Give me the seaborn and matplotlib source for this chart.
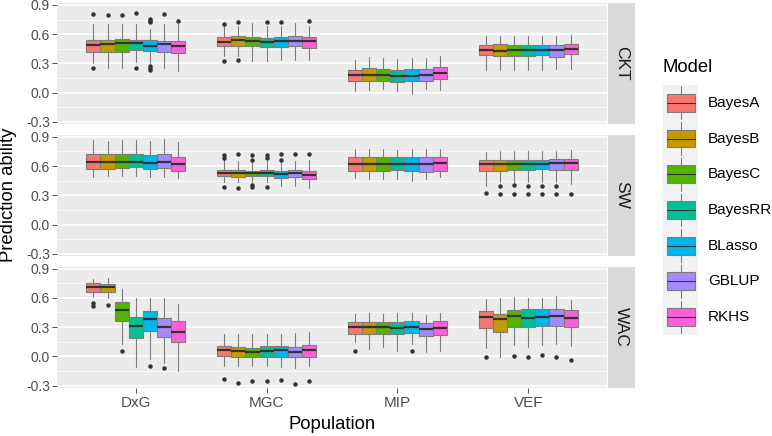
import matplotlib
matplotlib.use("Agg")
import matplotlib.pyplot as plt
from matplotlib.patches import Rectangle
import seaborn as sns

# categories
models = ["BayesA", "BayesB", "BayesC", "BayesRR", "BLasso", "GBLUP", "RKHS"]
populations = ["DxG", "MGC", "MIP", "VEF"]
traits = ["CKT", "SW", "WAC"]
palette = ["#F8766D", "#C49A00", "#53B400", "#00C094", "#00B6EB", "#A58AFF", "#FB61D7"]
y_ticks = [-0.3, 0.0, 0.3, 0.6, 0.9]
y_minor = [-0.15, 0.15, 0.45, 0.75]

# box summaries: (whisker low, q1, median, q3, whisker high, outliers)
ckt_dxg = [(0.300, 0.416, 0.485, 0.536, 0.706, [0.805, 0.253]),
           (0.250, 0.413, 0.495, 0.543, 0.706, [0.800]),
           (0.250, 0.416, 0.505, 0.550, 0.700, [0.800]),
           (0.320, 0.433, 0.505, 0.543, 0.706, [0.815, 0.253]),
           (0.300, 0.427, 0.474, 0.536, 0.655, [0.754, 0.740, 0.730, 0.276, 0.253, 0.235]),
           (0.250, 0.416, 0.498, 0.529, 0.700, [0.805]),
           (0.218, 0.406, 0.474, 0.529, 0.706, [0.740])]
ckt_mgc = [(0.372, 0.474, 0.519, 0.567, 0.680, [0.706, 0.328]),
           (0.380, 0.481, 0.536, 0.577, 0.680, [0.724, 0.338]),
           (0.328, 0.474, 0.526, 0.567, 0.720, []),
           (0.328, 0.464, 0.519, 0.560, 0.680, [0.724]),
           (0.338, 0.468, 0.526, 0.570, 0.680, [0.724]),
           (0.338, 0.474, 0.532, 0.577, 0.713, []),
           (0.338, 0.457, 0.526, 0.570, 0.680, [0.734])]
ckt_mip = [(0.014, 0.123, 0.177, 0.235, 0.338, []),
           (0.024, 0.120, 0.177, 0.249, 0.365, []),
           (0.037, 0.123, 0.184, 0.242, 0.355, []),
           (0.014, 0.113, 0.174, 0.235, 0.345, []),
           (-0.014, 0.116, 0.167, 0.242, 0.355, []),
           (0.041, 0.120, 0.184, 0.246, 0.355, []),
           (0.024, 0.140, 0.200, 0.263, 0.379, [])]
ckt_vef = [(0.229, 0.382, 0.433, 0.491, 0.577, []),
           (0.229, 0.379, 0.430, 0.502, 0.577, []),
           (0.235, 0.379, 0.433, 0.491, 0.577, []),
           (0.235, 0.379, 0.433, 0.491, 0.577, []),
           (0.235, 0.382, 0.433, 0.491, 0.577, []),
           (0.246, 0.365, 0.440, 0.491, 0.577, []),
           (0.246, 0.396, 0.447, 0.502, 0.594, [])]

sw_dxg = [(0.490, 0.572, 0.638, 0.718, 0.866, []),
          (0.500, 0.569, 0.638, 0.718, 0.855, []),
          (0.500, 0.580, 0.642, 0.718, 0.862, []),
          (0.500, 0.586, 0.642, 0.718, 0.866, []),
          (0.486, 0.572, 0.631, 0.711, 0.852, []),
          (0.486, 0.580, 0.642, 0.718, 0.873, []),
          (0.475, 0.551, 0.624, 0.694, 0.850, [])]
sw_mgc = [(0.440, 0.493, 0.527, 0.562, 0.659, [0.708, 0.683, 0.382]),
          (0.440, 0.486, 0.527, 0.562, 0.649, [0.718, 0.378]),
          (0.440, 0.493, 0.527, 0.552, 0.638, [0.708, 0.666, 0.406, 0.382]),
          (0.440, 0.493, 0.527, 0.562, 0.649, [0.708, 0.683, 0.382]),
          (0.395, 0.475, 0.517, 0.545, 0.638, [0.718, 0.666]),
          (0.395, 0.486, 0.527, 0.562, 0.649, [0.718]),
          (0.371, 0.468, 0.510, 0.552, 0.659, [0.728])]
sw_mip = [(0.475, 0.545, 0.624, 0.694, 0.770, []),
          (0.465, 0.545, 0.620, 0.690, 0.770, []),
          (0.465, 0.545, 0.624, 0.690, 0.770, []),
          (0.465, 0.555, 0.621, 0.694, 0.763, []),
          (0.451, 0.545, 0.624, 0.694, 0.770, []),
          (0.465, 0.538, 0.624, 0.694, 0.770, []),
          (0.486, 0.545, 0.631, 0.690, 0.777, [])]
sw_vef = [(0.395, 0.552, 0.621, 0.659, 0.746, [0.319]),
          (0.440, 0.552, 0.624, 0.659, 0.753, [0.399, 0.312]),
          (0.440, 0.555, 0.624, 0.659, 0.753, [0.406, 0.312]),
          (0.440, 0.562, 0.621, 0.659, 0.753, [0.399, 0.312]),
          (0.440, 0.569, 0.624, 0.666, 0.753, [0.399, 0.312]),
          (0.440, 0.562, 0.631, 0.673, 0.756, [0.399, 0.312]),
          (0.413, 0.562, 0.631, 0.676, 0.760, [0.312])]

wac_dxg = [(0.610, 0.656, 0.707, 0.749, 0.793, [0.542, 0.517]),
           (0.603, 0.656, 0.707, 0.742, 0.807, [0.525]),
           (0.128, 0.362, 0.479, 0.559, 0.690, [0.059]),
           (-0.114, 0.186, 0.310, 0.403, 0.603, []),
           (-0.028, 0.259, 0.386, 0.466, 0.603, [-0.103]),
           (-0.069, 0.203, 0.300, 0.393, 0.603, [-0.124]),
           (-0.148, 0.145, 0.248, 0.362, 0.541, [])]
wac_mgc = [(-0.097, 0.000, 0.066, 0.110, 0.231, [-0.234]),
           (-0.103, -0.010, 0.052, 0.093, 0.231, [-0.269]),
           (-0.103, -0.010, 0.048, 0.086, 0.231, [-0.255]),
           (-0.103, -0.003, 0.059, 0.103, 0.231, [-0.255]),
           (-0.114, -0.003, 0.066, 0.110, 0.231, [-0.245]),
           (-0.124, -0.010, 0.041, 0.093, 0.241, [-0.279]),
           (-0.103, -0.010, 0.066, 0.117, 0.248, [-0.252])]
wac_mip = [(0.145, 0.231, 0.300, 0.352, 0.438, [0.059]),
           (0.076, 0.231, 0.300, 0.352, 0.448, []),
           (0.093, 0.224, 0.300, 0.352, 0.438, []),
           (0.059, 0.224, 0.290, 0.352, 0.448, []),
           (0.128, 0.238, 0.300, 0.359, 0.448, [0.059]),
           (0.048, 0.207, 0.283, 0.345, 0.428, []),
           (0.059, 0.214, 0.293, 0.359, 0.448, [])]
wac_vef = [(0.083, 0.293, 0.403, 0.462, 0.586, [-0.003]),
           (-0.010, 0.248, 0.379, 0.438, 0.603, []),
           (0.121, 0.300, 0.410, 0.472, 0.610, [0.000]),
           (0.100, 0.300, 0.397, 0.483, 0.603, [-0.010]),
           (0.117, 0.310, 0.403, 0.483, 0.593, [0.014]),
           (0.128, 0.310, 0.414, 0.490, 0.617, [-0.003]),
           (0.110, 0.300, 0.393, 0.472, 0.576, [-0.034])]

panel_data = {
    "CKT": [ckt_dxg, ckt_mgc, ckt_mip, ckt_vef],
    "SW": [sw_dxg, sw_mgc, sw_mip, sw_vef],
    "WAC": [wac_dxg, wac_mgc, wac_mip, wac_vef],
}

sns.set_theme(style="darkgrid")
plt.rcParams["font.family"] = ["Liberation Sans", "DejaVu Sans"]

W, H = 772, 436
fig = plt.figure(figsize=(W / 100, H / 100), dpi=100)

edge = "#7d7d7d"
dodge = 0.75
n_models = len(models)
bw = dodge / n_models


def build_stats(groups):
    stats, positions, colors = [], [], []
    for j, group in enumerate(groups):
        for i, (lo, q1, med, q3, hi, out) in enumerate(group):
            stats.append(dict(whislo=lo, q1=q1, med=med, q3=q3, whishi=hi, fliers=out))
            positions.append(j + 1 + (i - (n_models - 1) / 2) * bw)
            colors.append(palette[i])
    return stats, positions, colors


panel_left, panel_w = 57, 550
panel_h, panel_step = 121.3, 131.8

for k, trait in enumerate(traits):
    top = 3 + k * panel_step
    rect = [panel_left / W, 1 - (top + panel_h) / H, panel_w / W, panel_h / H]
    ax = fig.add_axes(rect)
    ax.set_facecolor("#EBEBEB")

    stats, positions, colors = build_stats(panel_data[trait])
    res = ax.bxp(stats, positions=positions, widths=bw, patch_artist=True,
                 showcaps=False, manage_ticks=False,
                 boxprops=dict(edgecolor=edge, linewidth=0.8),
                 whiskerprops=dict(color=edge, linewidth=0.8),
                 medianprops=dict(color="#333333", linewidth=1.6),
                 flierprops=dict(marker="o", markersize=2.2, markerfacecolor="#333333",
                                 markeredgecolor="#333333", linestyle="none"))
    for box, c in zip(res["boxes"], colors):
        box.set_facecolor(c)

    ax.set_xlim(0.4, 4.6)
    ax.set_ylim(-0.324, 0.92)
    ax.set_yticks(y_ticks)
    ax.set_yticklabels([f"{v:.1f}" for v in y_ticks])
    ax.set_yticks(y_minor, minor=True)
    ax.grid(False)
    ax.grid(axis="y", which="major", color="white", linewidth=1.1)
    ax.grid(axis="y", which="minor", color="white", linewidth=0.55)
    ax.set_axisbelow(True)
    for s in ax.spines.values():
        s.set_visible(False)
    ax.tick_params(axis="y", which="major", length=3.5, width=0.6, color="#333333",
                   labelsize=10, labelcolor="#4D4D4D", pad=1.5, left=True)
    ax.tick_params(axis="y", which="minor", length=0)
    ax.set_xticks(range(1, len(populations) + 1))
    if k == len(traits) - 1:
        ax.set_xticklabels(populations)
        ax.tick_params(axis="x", length=3.5, width=0.6, color="#333333",
                       labelsize=11, labelcolor="#4D4D4D", pad=2, bottom=True)
    else:
        ax.tick_params(axis="x", length=0, labelbottom=False)

    # facet strip on the right
    sax = fig.add_axes([608 / W, rect[1], 27 / W, rect[3]])
    sax.set_facecolor("#D9D9D9")
    sax.set_xticks([])
    sax.set_yticks([])
    sax.grid(False)
    for s in sax.spines.values():
        s.set_visible(False)
    sax.text(0.5, 0.5, trait, rotation=-90, ha="center", va="center",
             fontsize=12.5, color="#1A1A1A", transform=sax.transAxes)

fig.text(9 / W, 1 - 195 / H, "Prediction ability", rotation=90, ha="center",
         va="center", fontsize=13.3, color="black")
fig.text(332 / W, 1 - 424 / H, "Population", ha="center", va="center",
         fontsize=13.3, color="black")

# legend
key_top, key_step = 85, 35.7
lax = fig.add_axes([663 / W, 1 - (key_top + key_step * n_models) / H, 35 / W,
                    key_step * n_models / H])
lax.set_facecolor("#F2F2F2")
lax.set_xlim(0, 1)
lax.set_ylim(n_models, 0)
lax.set_xticks([])
lax.set_yticks([])
lax.grid(False)
for s in lax.spines.values():
    s.set_visible(False)
for i, (name, c) in enumerate(zip(models, palette)):
    lax.plot([0.514, 0.514], [i + 0.04, i + 0.25], color=edge, lw=0.8)
    lax.plot([0.514, 0.514], [i + 0.75, i + 0.96], color=edge, lw=0.8)
    lax.add_patch(Rectangle((0.114, i + 0.25), 0.8, 0.5, facecolor=c,
                            edgecolor=edge, lw=0.8))
    lax.plot([0.114, 0.914], [i + 0.5, i + 0.5], color="#333333", lw=0.8)
    fig.text(708 / W, 1 - (key_top + key_step * (i + 0.5)) / H, name,
             ha="left", va="center", fontsize=11, color="black")
fig.text(663 / W, 1 - 67 / H, "Model", ha="left", va="center", fontsize=13.3,
         color="black")

fig.savefig("out.png", dpi=100)
